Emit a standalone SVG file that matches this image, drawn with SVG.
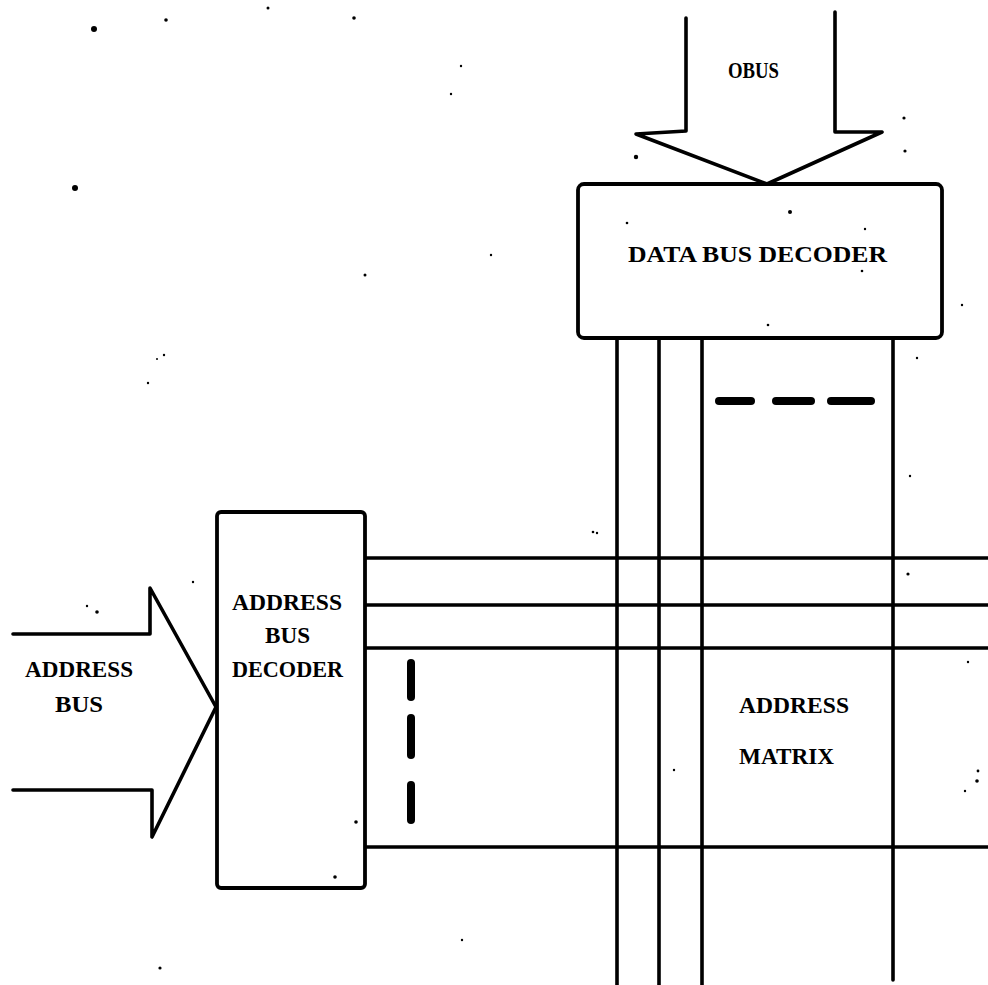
<svg xmlns="http://www.w3.org/2000/svg" width="988" height="985" viewBox="0 0 988 985">
<style>
.ln{fill:none;stroke:#000;stroke-width:3.6;stroke-linecap:round;stroke-linejoin:round}
.box{fill:#fff;stroke:#000;stroke-width:3.8}
.dash{stroke:#000;stroke-width:8;stroke-linecap:round}
.t{font-family:"Liberation Serif",serif;font-weight:bold;fill:#000;font-size:24px}
.sp{fill:#000}
</style>
<rect width="988" height="985" fill="#fff"/>
<g id="connectors">
  <path class="ln" d="M617,338 V985 M659,338 V985 M702,338 V985 M893,338 V980"/>
  <path class="ln" d="M365,558 H988 M365,605 H988 M365,648 H988 M365,847 H988"/>
  <line class="dash" x1="719" y1="401" x2="751" y2="401"/>
  <line class="dash" x1="776" y1="401" x2="811" y2="401"/>
  <line class="dash" x1="831" y1="401" x2="871" y2="401"/>
  <line class="dash" x1="411" y1="663" x2="411" y2="697"/>
  <line class="dash" x1="411" y1="718" x2="411" y2="755"/>
  <line class="dash" x1="411" y1="785" x2="411" y2="820"/>
</g>
<g id="obus">
  <path class="ln" d="M686,18 V131 L636,134 L767,184 L882,132 L835,132 V12"/>
  <text class="t" x="728" y="78" font-size="22" textLength="51" lengthAdjust="spacingAndGlyphs">OBUS</text>
</g>
<g id="data-bus-decoder">
  <rect class="box" x="578" y="184" width="364" height="154" rx="6"/>
  <text class="t" x="628" y="262" textLength="259" lengthAdjust="spacingAndGlyphs" font-size="26">DATA BUS DECODER</text>
</g>
<g id="address-bus-decoder">
  <rect class="box" x="217" y="512" width="148" height="376" rx="4"/>
  <text class="t" x="232" y="610" textLength="110" lengthAdjust="spacingAndGlyphs">ADDRESS</text>
  <text class="t" x="265" y="643" textLength="45" lengthAdjust="spacingAndGlyphs">BUS</text>
  <text class="t" x="232" y="677" textLength="111" lengthAdjust="spacingAndGlyphs">DECODER</text>
</g>
<g id="address-bus">
  <path class="ln" d="M13,634 H150 V588 L216,707 L152,837 V790 H13"/>
  <text class="t" x="25" y="677" textLength="108" lengthAdjust="spacingAndGlyphs">ADDRESS</text>
  <text class="t" x="55" y="712" textLength="48" lengthAdjust="spacingAndGlyphs">BUS</text>
</g>
<g id="address-matrix">
  <text class="t" x="739" y="713" textLength="110" lengthAdjust="spacingAndGlyphs">ADDRESS</text>
  <text class="t" x="739" y="764" textLength="95" lengthAdjust="spacingAndGlyphs">MATRIX</text>
</g>
<g id="specks" class="sp">
  <circle cx="94" cy="29" r="3"/><circle cx="166" cy="20" r="1.8"/><circle cx="268" cy="8" r="1.5"/>
  <circle cx="354" cy="18" r="1.8"/><circle cx="461" cy="66" r="1.2"/><circle cx="451" cy="94" r="1.2"/>
  <circle cx="75" cy="188" r="3"/><circle cx="365" cy="275" r="1.5"/><circle cx="491" cy="255" r="1.2"/>
  <circle cx="164" cy="355" r="1.2"/><circle cx="157" cy="359" r="1"/><circle cx="148" cy="383" r="1.2"/>
  <circle cx="636" cy="157" r="2.2"/><circle cx="904" cy="118" r="1.6"/><circle cx="905" cy="151" r="1.6"/>
  <circle cx="790" cy="212" r="2"/><circle cx="627" cy="223" r="1.3"/><circle cx="865" cy="229" r="1.2"/>
  <circle cx="862" cy="271" r="1.3"/><circle cx="768" cy="325" r="1.3"/><circle cx="962" cy="305" r="1.2"/>
  <circle cx="917" cy="358" r="1.2"/><circle cx="910" cy="476" r="1.2"/><circle cx="593" cy="532" r="1.3"/>
  <circle cx="597" cy="533" r="1.2"/><circle cx="908" cy="574" r="1.6"/><circle cx="968" cy="662" r="1.2"/>
  <circle cx="978" cy="771" r="1.4"/><circle cx="977" cy="781" r="1.8"/><circle cx="965" cy="791" r="1.2"/>
  <circle cx="674" cy="770" r="1.2"/><circle cx="87" cy="606" r="1.2"/><circle cx="97" cy="612" r="1.8"/>
  <circle cx="193" cy="582" r="1.2"/><circle cx="356" cy="822" r="1.8"/><circle cx="335" cy="877" r="1.8"/>
  <circle cx="160" cy="968" r="1.6"/><circle cx="462" cy="940" r="1.2"/>
</g>
</svg>
